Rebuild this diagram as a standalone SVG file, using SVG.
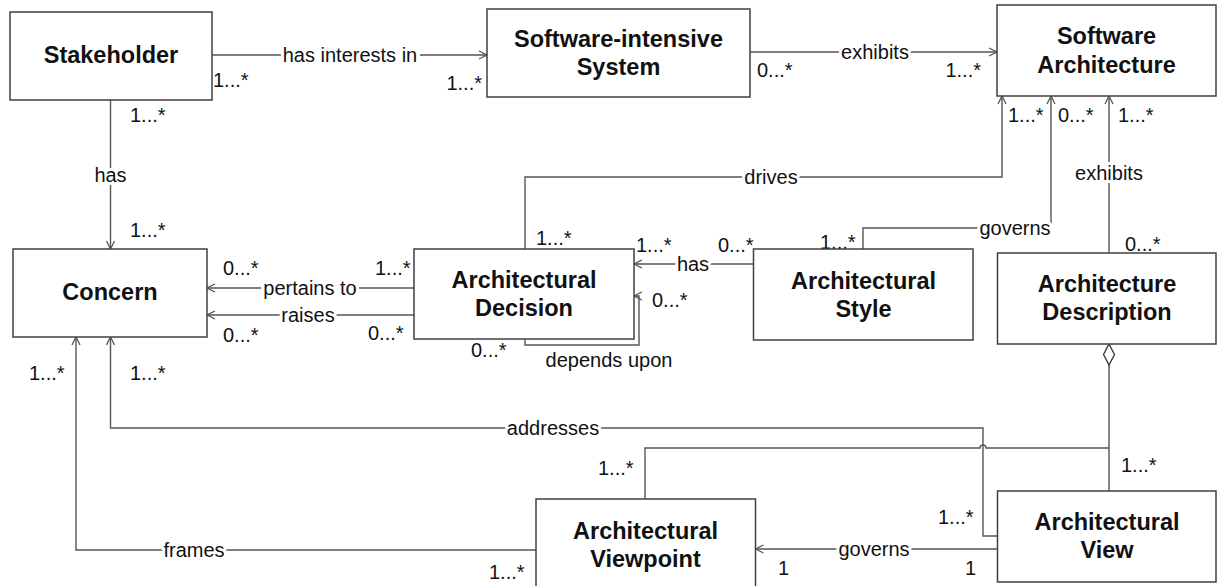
<svg xmlns="http://www.w3.org/2000/svg" width="1217" height="586" viewBox="0 0 1217 586">
<style>
.box{fill:#fff;stroke:#404040;stroke-width:1.5}
.nt{font-family:"Liberation Sans",Arial,sans-serif;font-weight:bold;font-size:23.5px;fill:#111;text-anchor:middle;dominant-baseline:central}
.ln{fill:none;stroke:#555;stroke-width:1.4}
.lb{font-family:"Liberation Sans",Arial,sans-serif;font-size:20px;fill:#111;text-anchor:middle;dominant-baseline:central;stroke:#fff;stroke-width:6;paint-order:stroke;stroke-linejoin:round}
.bg{fill:#fff}
.m{font-family:"Liberation Sans",Arial,sans-serif;font-size:20px;fill:#111;dominant-baseline:central}
.e{text-anchor:end}
</style>
<defs>
<marker id="arr" viewBox="0 0 10 10" refX="9" refY="5" markerWidth="10" markerHeight="10" markerUnits="userSpaceOnUse" orient="auto">
<path d="M1,1 L9,5 L1,9" fill="none" stroke="#555" stroke-width="1.3"/>
</marker>
</defs>
<rect width="1217" height="586" fill="#fff"/>
<g id="connectors">
<path class="ln" d="M212,55 H487" marker-end="url(#arr)"/>
<path class="ln" d="M110.5,100 V249" marker-end="url(#arr)"/>
<path class="ln" d="M750,52 H997" marker-end="url(#arr)"/>
<path class="ln" d="M525,249 V177 H1002 V96" marker-end="url(#arr)"/>
<path class="ln" d="M863,249 V228 H1051 V96" marker-end="url(#arr)"/>
<path class="ln" d="M1109,253 V96" marker-end="url(#arr)"/>
<path class="ln" d="M753,264 H634" marker-end="url(#arr)"/>
<path class="ln" d="M525,339 V345 H639 V296 H634" marker-end="url(#arr)"/>
<path class="ln" d="M414,288 H207" marker-end="url(#arr)"/>
<path class="ln" d="M414,315 H207" marker-end="url(#arr)"/>
<path class="ln" d="M997,536 H983 V428 H110.5 V337" marker-end="url(#arr)"/>
<path class="ln" d="M536,550 H76 V337" marker-end="url(#arr)"/>
<path class="ln" d="M997,549 H755.5" marker-end="url(#arr)"/>
<path class="ln" d="M1109,365 V491" stroke="#333"/>
<path class="ln" d="M1109,448 H986 a3,3 0 0 0 -6,0 H645 V499"/>
<path d="M1109,344 L1114.5,354.5 L1109,365 L1103.5,354.5 Z" fill="#fff" stroke="#333" stroke-width="1.3"/>
<rect class="bg" x="281" y="46" width="139" height="18"/>
<rect class="bg" x="261" y="280" width="98" height="16"/>
<text class="lb" x="350" y="55">has interests in</text>
<text class="lb" x="110.5" y="175">has</text>
<text class="lb" x="875" y="52">exhibits</text>
<text class="lb" x="771" y="177">drives</text>
<text class="lb" x="1015" y="228">governs</text>
<text class="lb" x="1109" y="173">exhibits</text>
<text class="lb" x="693" y="264">has</text>
<text class="lb" x="609" y="360">depends upon</text>
<text class="lb" x="310" y="288">pertains to</text>
<text class="lb" x="308" y="315">raises</text>
<text class="lb" x="553" y="428">addresses</text>
<text class="lb" x="194" y="550">frames</text>
<text class="lb" x="874" y="549">governs</text>
<text class="m" x="213" y="80">1...*</text>
<text class="m e" x="482" y="83">1...*</text>
<text class="m" x="130" y="115">1...*</text>
<text class="m" x="130" y="230">1...*</text>
<text class="m" x="757" y="70">0...*</text>
<text class="m e" x="981" y="70">1...*</text>
<text class="m" x="1008" y="115">1...*</text>
<text class="m" x="1058" y="115">0...*</text>
<text class="m" x="1118" y="115">1...*</text>
<text class="m" x="536" y="238">1...*</text>
<text class="m" x="820" y="242">1...*</text>
<text class="m" x="1125" y="244">0...*</text>
<text class="m" x="636" y="245">1...*</text>
<text class="m" x="718" y="245">0...*</text>
<text class="m" x="652" y="300">0...*</text>
<text class="m" x="471" y="350">0...*</text>
<text class="m" x="223" y="268">0...*</text>
<text class="m" x="375" y="268">1...*</text>
<text class="m" x="223" y="335">0...*</text>
<text class="m" x="368" y="333">0...*</text>
<text class="m" x="29" y="373">1...*</text>
<text class="m" x="130" y="373">1...*</text>
<text class="m" x="598" y="468">1...*</text>
<text class="m" x="1121" y="465">1...*</text>
<text class="m" x="938" y="517">1...*</text>
<text class="m" x="489" y="572">1...*</text>
<text class="m" x="778" y="568">1</text>
<text class="m" x="965" y="568">1</text>
</g>
<g id="stakeholder">
<rect class="box" x="10" y="12" width="202" height="88"/>
<text class="nt" x="111" y="55">Stakeholder</text>
</g>
<g id="system">
<rect class="box" x="487" y="9" width="263" height="88"/>
<text class="nt" x="618.5" y="38.5">Software-intensive</text>
<text class="nt" x="618.5" y="67">System</text>
</g>
<g id="software-architecture">
<rect class="box" x="997" y="5" width="219" height="91"/>
<text class="nt" x="1106.5" y="36">Software</text>
<text class="nt" x="1106.5" y="64.5">Architecture</text>
</g>
<g id="concern">
<rect class="box" x="13" y="249" width="194" height="88"/>
<text class="nt" x="110" y="292">Concern</text>
</g>
<g id="decision">
<rect class="box" x="414" y="249" width="220" height="90"/>
<text class="nt" x="524" y="279.5">Architectural</text>
<text class="nt" x="524" y="307.5">Decision</text>
</g>
<g id="style">
<rect class="box" x="753.5" y="249" width="219.5" height="91"/>
<text class="nt" x="863.5" y="280.5">Architectural</text>
<text class="nt" x="863.5" y="308.5">Style</text>
</g>
<g id="description">
<rect class="box" x="997.5" y="253" width="218.5" height="91"/>
<text class="nt" x="1107" y="284">Architecture</text>
<text class="nt" x="1107" y="312">Description</text>
</g>
<g id="viewpoint">
<rect class="box" x="536" y="499" width="219.5" height="95"/>
<text class="nt" x="645.5" y="530.5">Architectural</text>
<text class="nt" x="645.5" y="558.5">Viewpoint</text>
</g>
<g id="view">
<rect class="box" x="997.5" y="491" width="218.5" height="91"/>
<text class="nt" x="1107" y="521.5">Architectural</text>
<text class="nt" x="1107" y="549.5">View</text>
</g>
</svg>
